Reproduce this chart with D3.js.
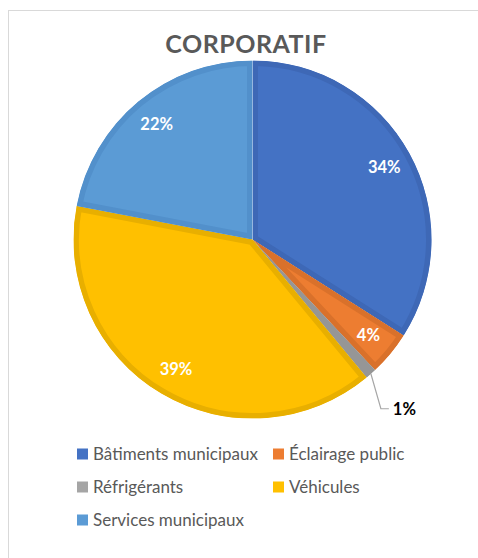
<!DOCTYPE html>
<html>
<head>
<meta charset="utf-8">
<script src="https://cdn.jsdelivr.net/npm/d3@7"></script>
<style>
  html, body { margin: 0; padding: 0; background: #ffffff; }
  svg { display: block; font-family: Lato, "Open Sans", sans-serif; }
</style>
</head>
<body>
<svg id="chart" width="478" height="558"></svg>
<script>
// Émissions du secteur corporatif, part de chaque source (%)
const categories = ["Bâtiments municipaux", "Éclairage public", "Réfrigérants", "Véhicules", "Services municipaux"];
const values = [34, 4, 1, 39, 22];
const fillColors = ["#4472C4", "#ED7D31", "#A5A5A5", "#FFC000", "#5B9BD5"];
const edgeColors = ["#3E68B6", "#D9712B", "#969696", "#E8AF00", "#5290CB"];
const outsideLabels = ["Réfrigérants"];
const title = "CORPORATIF";

const svg = d3.select("#chart");
const W = 478, H = 558;

// cadre du graphique
svg.append("rect")
  .attr("x", 8.5).attr("y", 10.5)
  .attr("width", W).attr("height", H)
  .attr("fill", "#ffffff")
  .attr("stroke", "#d9d9d9").attr("stroke-width", 1);

svg.append("text")
  .attr("x", 246).attr("y", 53)
  .attr("text-anchor", "middle")
  .attr("font-size", 25).attr("font-weight", 700)
  .attr("fill", "#595959")
  .attr("letter-spacing", 0.5)
  .text(title);

const cx = 252.5, cy = 239.5, R = 179;
const data = categories.map((c, i) => ({ name: c, value: values[i], i }));

const pie = d3.pie().sort(null).value(d => d.value);
const arcs = pie(data);
const arc = d3.arc().innerRadius(0).outerRadius(R);

const g = svg.append("g").attr("transform", `translate(${cx},${cy})`);
const defs = svg.append("defs");

arcs.forEach((a, k) => {
  defs.append("clipPath").attr("id", "clip" + k)
    .append("path").attr("d", arc(a));
});

// secteurs avec un liseré intérieur plus foncé
g.selectAll("path.slice")
  .data(arcs)
  .join("path")
  .attr("class", "slice")
  .attr("d", arc)
  .attr("fill", d => fillColors[d.data.i])
  .attr("stroke", d => edgeColors[d.data.i])
  .attr("stroke-width", 11)
  .attr("stroke-linejoin", "miter")
  .attr("clip-path", (d, k) => `url(#clip${k})`);

// étiquettes à l'intérieur
const labelArc = d3.arc().innerRadius(R * 0.84).outerRadius(R * 0.84);
g.selectAll("text.inner")
  .data(arcs.filter(d => !outsideLabels.includes(d.data.name)))
  .join("text")
  .attr("class", "inner")
  .attr("transform", d => `translate(${labelArc.centroid(d)})`)
  .attr("text-anchor", "middle")
  .attr("dy", "0.36em")
  .attr("font-size", 16.5).attr("font-weight", 700)
  .attr("fill", "#ffffff")
  .text(d => d.data.value + "%");

// étiquette extérieure avec ligne de rappel
const edgeArc = d3.arc().innerRadius(R).outerRadius(R);
arcs.filter(d => outsideLabels.includes(d.data.name)).forEach(d => {
  const [x0, y0] = edgeArc.centroid(d);
  const x1 = x0 + 10, y1 = y0 + 35;
  const x2 = x1 + 8;
  g.append("polyline")
    .attr("points", [[x0, y0], [x1, y1], [x2, y1]].map(p => p.join(",")).join(" "))
    .attr("fill", "none")
    .attr("stroke", "#a6a6a6").attr("stroke-width", 1.2);
  g.append("text")
    .attr("x", x2 + 4).attr("y", y1)
    .attr("dy", "0.36em")
    .attr("font-size", 16.5).attr("font-weight", 700)
    .attr("fill", "#000000")
    .text(d.data.value + "%");
});

// légende
const legendX = [77, 273];
const legendY0 = 454, legendDY = 33;
const legend = svg.append("g");
data.forEach((d, k) => {
  const col = k % 2, row = Math.floor(k / 2);
  const x = legendX[col], y = legendY0 + row * legendDY;
  legend.append("rect")
    .attr("x", x).attr("y", y - 5.5)
    .attr("width", 11).attr("height", 11)
    .attr("fill", fillColors[d.i]);
  legend.append("text")
    .attr("x", x + 16).attr("y", y)
    .attr("dy", "0.36em")
    .attr("font-size", 17)
    .attr("fill", "#595959")
    .text(d.name);
});
</script>
</body>
</html>
